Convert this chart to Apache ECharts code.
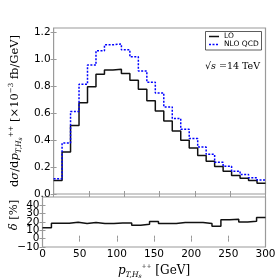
<!DOCTYPE html>
<html>
<head>
<meta charset="utf-8">
<script src="https://cdn.jsdelivr.net/npm/echarts@6/dist/echarts.min.js"></script>
<style>html,body{margin:0;padding:0;background:#fff}#c{width:280px;height:280px}</style>
</head>
<body>
<div id="c"></div>
<script>
// Bin lower edges (GeV), bin width 12 GeV
var binLow = [0,12,24,36,48,60,72,84,96,108,120,132,144,156,168,180,192,204,216,228,240,252,264,276,288];
var binWidth = 12;
// dσ/dpT [×10^-3 fb/GeV]
var lo  = [0.100,0.312,0.509,0.678,0.797,0.890,0.922,0.929,0.897,0.847,0.780,0.693,0.618,0.543,0.469,0.399,0.342,0.287,0.243,0.205,0.170,0.138,0.118,0.101,0.080];
var nlo = [0.113,0.379,0.613,0.817,0.959,1.066,1.110,1.116,1.073,1.021,0.916,0.832,0.752,0.648,0.561,0.481,0.412,0.349,0.295,0.237,0.207,0.170,0.146,0.121,0.104];
// δ [%]
var delta = [13.0,18.4,18.4,19.7,18.2,19.3,18.3,18.3,18.9,18.9,16.0,17.2,20.7,18.2,18.2,19.5,19.5,19.5,18.2,14.8,22.6,23.3,20.0,21.0,25.3];
var xTicks = [0,50,100,150,200,250,300];
var yTopTicks = [0,0.2,0.4,0.6,0.8,1.0,1.2];
var yBotTicks = [-10,0,10,20,30,40];
var seriesNames = ['LO','NLO QCD'];

function stepData(v){
  var d = binLow.map(function(x,i){return [x, v[i]];});
  d.push([binLow[binLow.length-1]+binWidth, v[v.length-1]]);
  return d;
}

var frame = '#9a9a9a';
var tickFont = {fontFamily:'DejaVu Sans', fontSize:10.5, color:'#000'};
function minus(s){return String(s).replace('-', '\u2212');}

function xAx(grid, pos, labels){
  return {type:'value', gridIndex:grid, position:pos, min:0, max:300, interval:50,
    axisLine:{show:false}, splitLine:{show:false},
    axisTick:{show:true, inside:true, length:3, customValues:xTicks, lineStyle:{color:frame, width:1}},
    axisLabel:Object.assign({show:labels, margin:2, customValues:xTicks, hideOverlap:false, showMinLabel:true, showMaxLabel:true}, tickFont)};
}
function yAx(grid, pos, min, max, ticks, labels, fmt){
  return {type:'value', gridIndex:grid, position:pos, min:min, max:max,
    axisLine:{show:false}, splitLine:{show:false},
    axisTick:{show:true, inside:true, length:3, customValues:ticks, lineStyle:{color:frame, width:1}},
    axisLabel:Object.assign({show:labels, margin:3, customValues:ticks, formatter:fmt, hideOverlap:false, showMinLabel:true, showMaxLabel:true}, tickFont)};
}

var serif = 'DejaVu Serif';
var chart = echarts.init(document.getElementById('c'), null, {renderer:'canvas'});
var xTop = xAx(1,'bottom',true);
xTop.name = '{i|p}{sub|T,H}{ss|s}{sup|++} [GeV]';
xTop.nameLocation = 'middle';
xTop.nameGap = 16;
xTop.nameTextStyle = {fontFamily:serif, fontSize:12, color:'#000', lineHeight:16,
  rich:{i:{fontFamily:serif, fontStyle:'italic', fontSize:12, verticalAlign:'middle'},
        sub:{fontFamily:serif, fontStyle:'italic', fontSize:7.5, verticalAlign:'bottom', lineHeight:16},
        ss:{fontFamily:serif, fontStyle:'italic', fontSize:6, verticalAlign:'bottom', lineHeight:14},
        sup:{fontFamily:serif, fontSize:6, verticalAlign:'top', lineHeight:14}}};

var yMain = yAx(0,'left',0,1.235,yTopTicks,true,function(v){return v.toFixed(1);});
yMain.name = 'd{i|σ}/d{i|p}{sub|T,H}{ss|s}{sup|++} [×10{sup|−3} fb/GeV]';
yMain.nameLocation = 'middle';
yMain.nameRotate = 90;
yMain.nameGap = 22;
yMain.nameTextStyle = {fontFamily:serif, fontSize:11.5, color:'#000', lineHeight:15,
  rich:{i:{fontFamily:serif, fontStyle:'italic', fontSize:11.5},
        sub:{fontFamily:serif, fontStyle:'italic', fontSize:7.5, verticalAlign:'bottom', lineHeight:15},
        ss:{fontFamily:serif, fontStyle:'italic', fontSize:6, verticalAlign:'bottom', lineHeight:13},
        sup:{fontFamily:serif, fontSize:7, verticalAlign:'top', lineHeight:13}}};

// Lower panel labels are drawn below from the axis scale (auto-layout hides overlapping ones)
var yDelta = yAx(1,'left',-10,50,yBotTicks,false);
yDelta.name = '{i|δ} [%]';
yDelta.nameLocation = 'middle';
yDelta.nameRotate = 90;
yDelta.nameGap = 22;
yDelta.nameTextStyle = {fontFamily:serif, fontSize:11.5, color:'#000', padding:[0,0,0,14],
  rich:{i:{fontFamily:serif, fontStyle:'italic', fontSize:11.5}}};

var baseGraphic = [
    {id:'lgbox', type:'rect', shape:{x:205.5, y:31.5, width:56, height:18.5}, style:{fill:'#fff', stroke:'#333', lineWidth:0.8}, z:10},
    {id:'lg1', type:'line', shape:{x1:209, y1:36.5, x2:219, y2:36.5}, style:{stroke:'#111', lineWidth:1.5}, z:11},
    {id:'lg2', type:'line', shape:{x1:209, y1:44.5, x2:219, y2:44.5}, style:{stroke:'#0000ff', lineWidth:1.5, lineDash:[2,1.5]}, z:11},
    {id:'lt1', type:'text', x:224, y:36.5, style:{text:seriesNames[0], fontFamily:'DejaVu Sans', fontSize:7.5, fill:'#000', verticalAlign:'middle'}, z:11},
    {id:'lt2', type:'text', x:224, y:44.5, style:{text:seriesNames[1], fontFamily:'DejaVu Sans', fontSize:7.5, fill:'#000', verticalAlign:'middle'}, z:11},
    {id:'sqrts', type:'text', x:205, y:67, style:{
      text:'√{i|s} =14 TeV', fontFamily:serif, fontSize:9.5, fill:'#000', verticalAlign:'middle',
      rich:{i:{fontFamily:serif, fontStyle:'italic', fontSize:9.5}}}, z:11}
];

var option = {
  animation:false,
  backgroundColor:'#fff',
  grid:[
    {left:42.5, right:14.5, top:28, height:166, show:true, borderColor:frame, borderWidth:1.2, backgroundColor:'transparent'},
    {left:42.5, right:14.5, top:197, height:54, show:true, borderColor:frame, borderWidth:1.2, backgroundColor:'transparent'}
  ],
  xAxis:[ xAx(0,'bottom',false), xAx(0,'top',false), xTop, xAx(1,'top',false) ],
  yAxis:[ yMain, yAx(0,'right',0,1.235,yTopTicks,false), yDelta, yAx(1,'right',-10,50,yBotTicks,false) ],
  graphic:baseGraphic,
  series:[
    {name:seriesNames[0], type:'line', xAxisIndex:0, yAxisIndex:0, step:'end', symbol:'none',
     lineStyle:{color:'#111', width:1.5}, itemStyle:{color:'#111'}, data:stepData(lo)},
    {name:seriesNames[1], type:'line', xAxisIndex:0, yAxisIndex:0, step:'end', symbol:'none',
     lineStyle:{color:'#0000ff', width:1.5, type:[2,1.5]}, itemStyle:{color:'#0000ff'}, data:stepData(nlo)},
    {name:'delta', type:'line', xAxisIndex:2, yAxisIndex:2, step:'end', symbol:'none',
     lineStyle:{color:'#111', width:1.5}, data:stepData(delta)}
  ]
};
chart.setOption(option);

var labelGraphics = yBotTicks.map(function(v, i){
  var py = chart.convertToPixel({yAxisIndex:2}, v);
  var px = chart.convertToPixel({xAxisIndex:2}, 0) - 3;
  return {id:'dl'+i, type:'text', x:px, y:py, style:{text:minus(v), fontFamily:'DejaVu Sans', fontSize:10.5,
    fill:'#000', align:'right', verticalAlign:'middle'}, z:5};
});
chart.setOption({graphic:baseGraphic.concat(labelGraphics)});
</script>
</body>
</html>
